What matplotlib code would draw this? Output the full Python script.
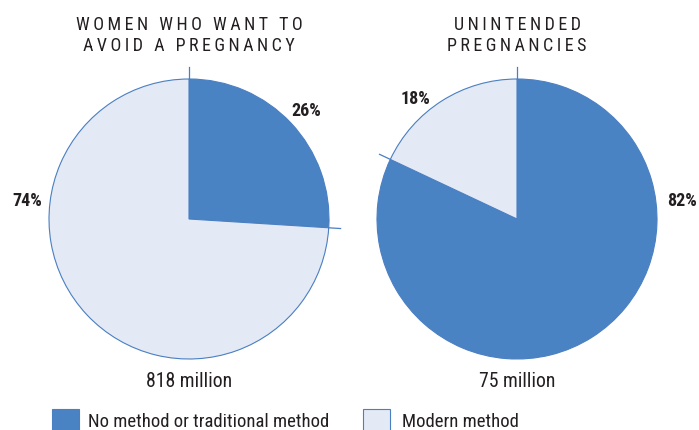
import matplotlib.pyplot as plt
from matplotlib.patches import Rectangle
import numpy as np

plt.rcParams['font.family'] = ['Roboto Condensed', 'DejaVu Sans']

dark = '#4a83c4'
light = '#e3e9f5'
edge = '#4a7fc1'
ink = '#231f20'

titles = [['WOMEN WHO WANT TO', 'AVOID A PREGNANCY'], ['UNINTENDED', 'PREGNANCIES']]
totals = ['818 million', '75 million']
# share with no method or traditional method, share with modern method
shares = [[26, 74], [82, 18]]
legend_labels = ['No method or traditional method', 'Modern method']

W, H = 699, 431
fig = plt.figure(figsize=(W / 100, H / 100), dpi=100)

centers = [189, 517]
cy = 220
r_px = 140
half = 160


def add_pie(cx, vals):
    ax = fig.add_axes([(cx - half) / W, 1 - (cy + half) / H, 2 * half / W, 2 * half / H])
    lim = half / r_px
    ax.pie(vals, colors=[dark, light], startangle=90, counterclock=False,
           wedgeprops=dict(edgecolor=edge, linewidth=0.8))
    ax.set_xlim(-lim, lim)
    ax.set_ylim(-lim, lim)
    ax.set_aspect('equal')
    ax.axis('off')
    # small ticks on slice boundaries
    for a in [90, 90 - vals[0] * 3.6]:
        t = np.deg2rad(a)
        ax.plot([np.cos(t), 1.085 * np.cos(t)], [np.sin(t), 1.085 * np.sin(t)],
                color=edge, lw=0.9, clip_on=False)
    return ax


for cx, vals in zip(centers, shares):
    add_pie(cx, vals)


def ftext(x, y, s, **kw):
    return fig.text(x / W, 1 - y / H, s, **kw)


def spaced(s):
    # letter-spaced caps for the headings
    return '\u2009'.join(s)


for cx, lines, tot in zip(centers, titles, totals):
    for y, line in zip([30, 51], lines):
        ftext(cx, y, spaced(line), ha='center', va='baseline', fontsize=13, color=ink)
    ftext(cx, 387, tot, ha='center', va='baseline', fontsize=14.2, color=ink)

pct_kw = dict(ha='center', va='baseline', fontsize=13, fontweight='bold', color=ink)
ftext(306, 116, f'{shares[0][0]}%', **pct_kw)
ftext(27, 206, f'{shares[0][1]}%', **pct_kw)
ftext(415, 104, f'{shares[1][1]}%', **pct_kw)
ftext(682, 206, f'{shares[1][0]}%', **pct_kw)

# legend
for x0, col, lab, tx in [(52, dark, legend_labels[0], 88), (363, light, legend_labels[1], 402)]:
    fig.patches.append(Rectangle((x0 / W, 1 - 437 / H), 27 / W, 27 / H,
                                 transform=fig.transFigure, facecolor=col,
                                 edgecolor=edge, linewidth=0.8))
    ftext(tx, 427.5, lab, ha='left', va='baseline', fontsize=13.5, color=ink)

fig.savefig('out.png', dpi=100)
